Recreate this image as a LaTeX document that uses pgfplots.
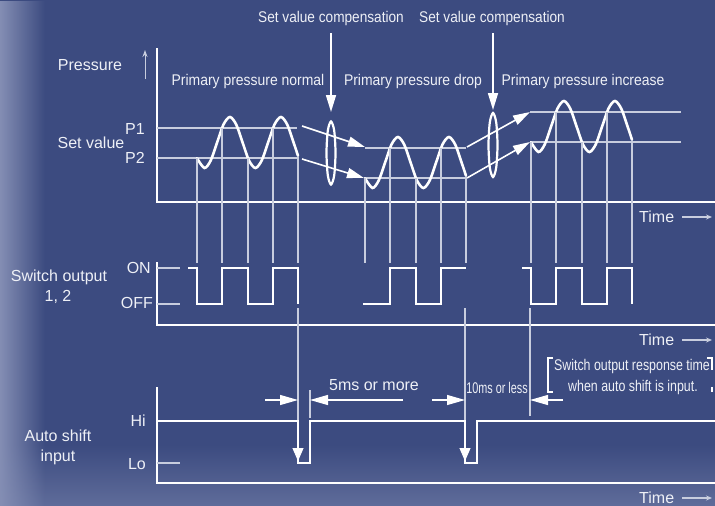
\documentclass[border=0pt]{standalone}
\usepackage{pgfplots}
\pgfplotsset{compat=1.18}
\usepackage{fontspec}
\setmainfont{Liberation Sans}
\usetikzlibrary{arrows.meta,fadings}

\definecolor{bgblue}{RGB}{60,75,128}
\definecolor{bgleft}{RGB}{132,142,180}
\definecolor{bgbottom}{RGB}{95,108,154}
\definecolor{thinc}{RGB}{200,205,222}
\definecolor{txtc}{RGB}{238,240,246}

\newcommand\nar[2][0.88]{\scalebox{#1}[1]{#2}}

\tikzset{
  wave/.style={white, line width=2.6pt, smooth, line cap=round},
  sig/.style={white, line width=2.4pt, line join=miter},
  axl/.style={white, line width=1.6pt},
  thinl/.style={thinc, line width=1.2pt},
  setl/.style={thinc, line width=1.6pt},
  bigarr/.style={white, line width=1.6pt, -{Triangle[length=17pt,width=10pt]}},
  dimarr/.style={white, line width=1.2pt, -{Triangle[length=18pt,width=10pt]}},
  timearr/.style={thinc, line width=1.1pt, -{Stealth[length=6pt,width=5pt]}},
  txt/.style={text=txtc, font=\fontsize{16}{18}\selectfont, inner sep=0pt},
  stxt/.style={text=txtc, font=\fontsize{15.5}{17}\selectfont, inner sep=0pt},
}

\begin{document}
\begin{tikzpicture}
\begin{axis}[
  name=ax,
  width=715pt, height=506pt, scale only axis,
  xmin=0, xmax=715, ymin=0, ymax=506,
  y dir=reverse,
  hide axis, clip=false,
  unbounded coords=jump,
]
% background
\fill[bgblue] (axis cs:0,0) rectangle (axis cs:715,506);
\shade[top color=bgblue, bottom color=bgbottom] (axis cs:0,445) rectangle (axis cs:715,506);
\fill[bgleft, path fading=east] (axis cs:0,0) rectangle (axis cs:45,506);

% ---- pressure panel ----
\addplot[axl] coordinates {(157,48) (157,202) (715,202)};
\addplot[thinc, line width=1pt, -{Stealth[length=7pt,width=5pt]}] coordinates {(145,79) (145,50)};
% set value lines P1 / P2
\addplot[setl] coordinates {(157,128) (297,128) (nan,nan) (157,158) (297,158)};
\addplot[setl] coordinates {(365,148) (466,148) (nan,nan) (365,178) (466,178)};
\addplot[setl] coordinates {(530,112) (681,112) (nan,nan) (530,142) (681,142)};
% pressure waves
\addplot[wave] coordinates {(197,158.2) (204.4,168) (210.7,160.5) (217.1,142.5) (223.5,124.5) (229.9,117) (236.2,124.5) (242.6,142.5) (249,160.5) (255.4,168) (261.7,160.5) (268.1,142.5) (274.5,124.5) (280.9,117) (287.2,124.5) (293.6,142.5) (298,155.7)};
\addplot[wave] coordinates {(365,178.2) (372.4,188) (378.7,180.5) (385.1,162.5) (391.5,144.5) (397.9,137) (404.2,144.5) (410.6,162.5) (417,180.5) (423.4,188) (429.7,180.5) (436.1,162.5) (442.5,144.5) (448.9,137) (455.2,144.5) (461.6,162.5) (466,175.7)};
\addplot[wave] coordinates {(531,142.2) (538.4,152) (544.7,144.5) (551.1,126.5) (557.5,108.5) (563.9,101) (570.2,108.5) (576.6,126.5) (583,144.5) (589.4,152) (595.7,144.5) (602.1,126.5) (608.5,108.5) (614.9,101) (621.2,108.5) (627.6,126.5) (632,139.7)};
% compensation arrows
\addplot[bigarr] coordinates {(302,126) (365,147)};
\addplot[bigarr] coordinates {(302,159) (364,178)};
\addplot[bigarr] coordinates {(467,147) (530,112)};
\addplot[bigarr] coordinates {(467,178) (530,142)};
\addplot[bigarr] coordinates {(331,33) (331,112)};
\addplot[bigarr] coordinates {(493,33) (493,110)};
% ellipses
\addplot[white, line width=2.2pt, smooth cycle] coordinates {(331,121.5) (334.2,130.7) (335.5,153) (334.2,175.3) (331,184.5) (327.8,175.3) (326.5,153) (327.8,130.7)};
\addplot[white, line width=2.2pt, smooth cycle] coordinates {(493,113) (496.2,122.4) (497.5,145) (496.2,167.6) (493,177) (489.8,167.6) (488.5,145) (489.8,122.4)};
% projection lines to switch output
\addplot[thinl] coordinates {(197,158) (197,263) (nan,nan) (222,128) (222,263) (nan,nan) (248,158) (248,263) (nan,nan) (273,128) (273,263) (nan,nan) (298,156) (298,263)};
\addplot[thinl] coordinates {(365,178) (365,263) (nan,nan) (390,148) (390,263) (nan,nan) (416,178) (416,263) (nan,nan) (441,148) (441,263) (nan,nan) (466,176) (466,263)};
\addplot[thinl] coordinates {(531,142) (531,263) (nan,nan) (556,112) (556,263) (nan,nan) (582,142) (582,263) (nan,nan) (607,112) (607,263) (nan,nan) (632,140) (632,263)};

% ---- switch output panel ----
\addplot[axl] coordinates {(157,262) (157,325) (715,325)};
\addplot[thinl] coordinates {(157,268) (180,268) (nan,nan) (157,304) (180,304)};
\addplot[sig] coordinates {(188,268) (197,268) (197,304) (222,304) (222,268) (248,268) (248,304) (273,304) (273,268) (298,268) (298,304)};
\addplot[sig] coordinates {(363,304) (390,304) (390,268) (416,268) (416,304) (441,304) (441,268) (466,268)};
\addplot[sig] coordinates {(522,268) (531,268) (531,304) (556,304) (556,268) (582,268) (582,304) (607,304) (607,268) (632,268) (632,304)};
% timing guide lines
\addplot[thinl] coordinates {(298,308) (298,421) (nan,nan) (310,390) (310,418) (nan,nan) (465,308) (465,421) (nan,nan) (530,308) (530,416)};

% ---- auto shift panel ----
\addplot[axl] coordinates {(157,387) (157,483) (715,483)};
\addplot[thinl] coordinates {(157,463) (180,463)};
\addplot[sig] coordinates {(157,421) (298,421) (298,463) (310,463) (310,421) (465,421) (465,463) (477,463) (477,421) (715,421)};
\addplot[white, line width=1pt, -{Triangle[length=13pt,width=11pt]}] coordinates {(298,440) (298,461)};
\addplot[white, line width=1pt, -{Triangle[length=13pt,width=11pt]}] coordinates {(465,440) (465,461)};
% dimension arrows
\addplot[dimarr] coordinates {(265,400) (298,400)};
\addplot[dimarr] coordinates {(403,400) (310,400)};
\addplot[dimarr] coordinates {(432,400) (465,400)};
\addplot[dimarr] coordinates {(563,400) (530,400)};
% brackets
\addplot[white, line width=1.8pt] coordinates {(553,358) (548,358) (548,392) (553,392)};
\addplot[white, line width=1.8pt] coordinates {(707,358) (712,358) (712,370) (nan,nan) (712,387) (712,392)};
% time arrows
\addplot[timearr] coordinates {(682,217) (712,217)};
\addplot[timearr] coordinates {(682,340) (712,340)};
\addplot[timearr] coordinates {(682,498) (712,498)};

% ---- labels ----
\node[stxt] at (axis cs:331,18) {\nar{Set value compensation}};
\node[stxt] at (axis cs:492,18) {\nar{Set value compensation}};
\node[stxt] at (axis cs:248,81) {\nar[0.9]{Primary pressure normal}};
\node[stxt] at (axis cs:413,81) {\nar[0.9]{Primary pressure drop}};
\node[stxt] at (axis cs:583,81) {\nar[0.9]{Primary pressure increase}};
\node[txt] at (axis cs:90,65) {Pressure};
\node[txt] at (axis cs:91,143) {Set value};
\node[txt, anchor=east] at (axis cs:145,129) {P1};
\node[txt, anchor=east] at (axis cs:145,158) {P2};
\node[txt, anchor=west] at (axis cs:639,217) {Time};
\node[txt, anchor=west] at (axis cs:639,340) {Time};
\node[txt, anchor=west] at (axis cs:639,498) {Time};
\node[txt] at (axis cs:59,277) {Switch output};
\node[txt] at (axis cs:58,297) {1, 2};
\node[txt, anchor=east] at (axis cs:151,268) {ON};
\node[txt, anchor=east] at (axis cs:153,303) {OFF};
\node[txt] at (axis cs:58,436) {Auto shift};
\node[txt] at (axis cs:58,457) {input};
\node[txt, anchor=east] at (axis cs:146,421) {Hi};
\node[txt, anchor=east] at (axis cs:146,464) {Lo};
\node[txt] at (axis cs:374,385) {5ms or more};
\node[stxt] at (axis cs:497,388) {\nar[0.7]{10ms or less}};
\node[stxt] at (axis cs:632,366) {\nar[0.8]{Switch output response time}};
\node[stxt] at (axis cs:633,387) {\nar[0.8]{when auto shift is input.}};
\end{axis}
\pgfresetboundingbox
\path[use as bounding box] (ax.south west) rectangle (ax.north east);
\end{tikzpicture}
\end{document}
